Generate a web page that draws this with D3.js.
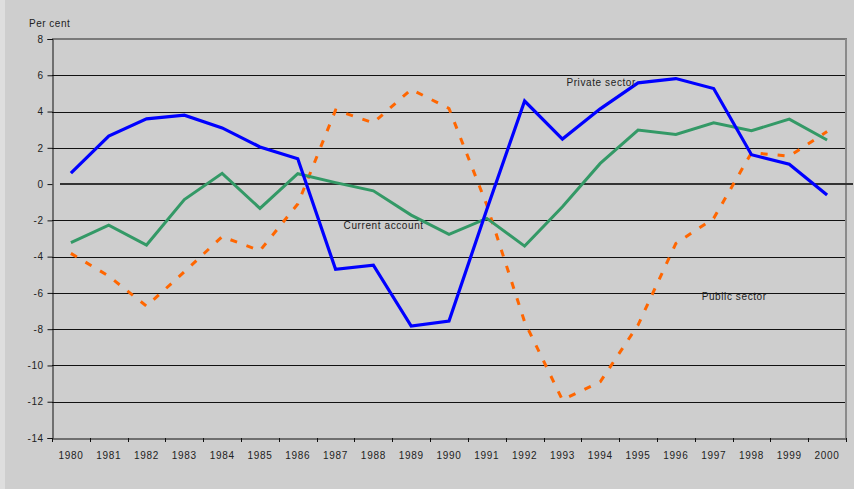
<!DOCTYPE html>
<html><head><meta charset="utf-8">
<script src="https://cdn.jsdelivr.net/npm/d3@7"></script>
<style>body{margin:0;background:#cecece;} svg{display:block;} text{font-family:"Liberation Sans",Arial,sans-serif;fill:#222;}</style>
</head><body>
<svg id="c" width="854" height="489"></svg>
<script>
const years = ["1980","1981","1982","1983","1984","1985","1986","1987","1988","1989","1990","1991","1992","1993","1994","1995","1996","1997","1998","1999","2000"];
const privateSector = [0.6,2.65,3.6,3.8,3.1,2.05,1.4,-4.7,-4.47,-7.83,-7.55,-1.4,4.58,2.48,4.15,5.58,5.82,5.27,1.62,1.1,-0.6];
const currentAccount = [-3.23,-2.26,-3.36,-0.85,0.59,-1.34,0.57,0.08,-0.37,-1.71,-2.77,-1.89,-3.42,-1.25,1.14,2.98,2.74,3.38,2.94,3.58,2.43];
const publicSector = [-3.82,-5.07,-6.73,-4.83,-2.9,-3.67,-1.1,4.08,3.38,5.22,4.17,-1.15,-7.6,-11.9,-10.9,-7.77,-3.27,-1.89,1.73,1.54,2.9];
const yTicks = [8,6,4,2,0,-2,-4,-6,-8,-10,-12,-14];
const labels = [
  {text:"Private sector", year:"1993", value:5.6, dx:4},
  {text:"Current account", year:"1987", value:-2.3, dx:8},
  {text:"Public sector", year:"1997", value:-6.2, dx:-12}
];

const svg = d3.select("#c");
svg.append("rect").attr("x",0).attr("y",0).attr("width",5).attr("height",489).attr("fill","#dedede");
const L=52, R=846, T=39, B=438;
const x = d3.scaleBand().domain(years).range([L,R]);
const y = d3.scaleLinear().domain([-14,8]).range([B,T]);
const cx = d => x(d)+x.bandwidth()/2;

// gridlines
svg.append("g").selectAll("line").data(yTicks.filter(v=>v!==8 && v!==0 && v!==-14)).join("line")
  .attr("x1",L).attr("x2",R).attr("y1",d=>Math.round(y(d))+0.5).attr("y2",d=>Math.round(y(d))+0.5)
  .attr("stroke","#111").attr("stroke-width",1);
// top & right border
svg.append("line").attr("x1",L).attr("x2",R+1).attr("y1",T).attr("y2",T).attr("stroke","#7a7a7a").attr("stroke-width",2);
svg.append("line").attr("x1",R).attr("x2",R).attr("y1",T).attr("y2",B).attr("stroke","#8a8a8a").attr("stroke-width",2);

// y axis
const yAxis = d3.axisLeft(y).tickValues(yTicks).tickSize(5).tickPadding(4).tickFormat(d => String(d));
const gy = svg.append("g").attr("transform",`translate(${L+0.5},0)`).call(yAxis);
gy.select(".domain").attr("stroke","#111");
gy.selectAll(".tick line").attr("stroke","#111");
gy.selectAll("text").style("font-size","10px").style("letter-spacing","0.5px").attr("fill","#222");

// x axis
const xAxis = d3.axisBottom(x).tickSize(0).tickPadding(13);
const gx = svg.append("g").attr("transform",`translate(0,${B+0.5})`).call(xAxis);
gx.select(".domain").attr("stroke","#111");
gx.selectAll("text").style("font-size","10px").style("letter-spacing","0.7px").attr("fill","#222");
svg.append("g").selectAll("line").data(years.concat(["end"])).join("line")
  .attr("x1",(d,i)=>Math.round(L+i*x.bandwidth())+0.5).attr("x2",(d,i)=>Math.round(L+i*x.bandwidth())+0.5)
  .attr("y1",B).attr("y2",B+4).attr("stroke","#111");

// zero line
svg.append("line").attr("x1",60).attr("x2",853).attr("y1",y(0)).attr("y2",y(0)).attr("stroke","#333").attr("stroke-width",2);

const line = d3.line().x((d,i)=>cx(years[i])).y(d=>y(d));
svg.append("path").datum(publicSector).attr("d",line).attr("fill","none").attr("stroke","#ff6600")
  .attr("stroke-width",3).attr("stroke-dasharray","7,10");
svg.append("path").datum(currentAccount).attr("d",line).attr("fill","none").attr("stroke","#339966").attr("stroke-width",3);
svg.append("path").datum(privateSector).attr("d",line).attr("fill","none").attr("stroke","#0000ff").attr("stroke-width",3.2);

svg.append("g").selectAll("text").data(labels).join("text")
  .attr("x",d=>cx(d.year)+d.dx).attr("y",d=>y(d.value)).attr("dy","0.35em")
  .style("font-size","10px").style("letter-spacing","0.6px").text(d=>d.text);

svg.append("text").attr("x",29).attr("y",27).style("font-size","10px").style("letter-spacing","0.5px").text("Per cent");
</script>
</body></html>
